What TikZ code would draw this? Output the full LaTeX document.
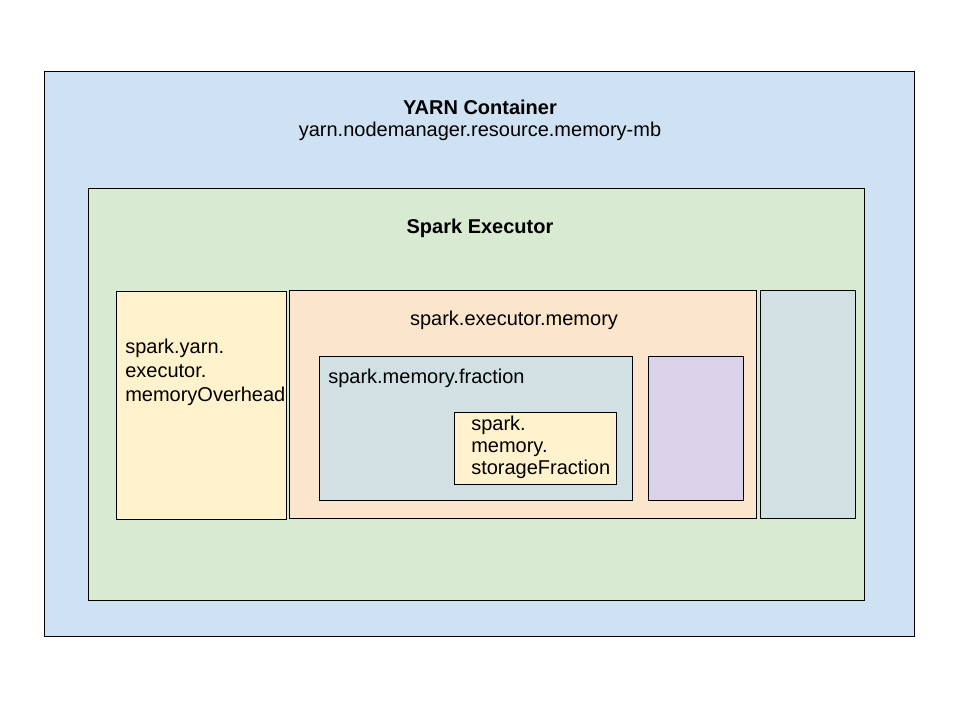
\documentclass[tikz,border=0pt]{standalone}
\usepackage{fontspec}
\setmainfont{Liberation Sans}
\usetikzlibrary{positioning}

\definecolor{yarnblue}{HTML}{CFE2F3}
\definecolor{execgreen}{HTML}{D9EAD3}
\definecolor{lightyellow}{HTML}{FFF2CC}
\definecolor{lightorange}{HTML}{FCE5CD}
\definecolor{greyblue}{HTML}{D0E0E3}
\definecolor{lightpurple}{HTML}{D9D2E9}

\tikzset{
    box/.style={draw=black, line width=0.6pt},
    label/.style={font=\fontsize{15}{18}\selectfont, inner sep=0pt}
}

\begin{document}
\begin{tikzpicture}[x=0.75pt, y=-0.75pt]

    \useasboundingbox (0,0) rectangle (960,720);

    % outer boxes
    \draw[box, fill=yarnblue] (44,71) rectangle (914,636);
    \draw[box, fill=execgreen] (88,188) rectangle (864,600);

    % inner boxes
    \draw[box, fill=lightyellow] (116,291) rectangle (286,519);
    \draw[box, fill=lightorange] (289,290) rectangle (756,518);
    \draw[box, fill=greyblue] (760,290) rectangle (855,518);
    \draw[box, fill=greyblue] (319,356) rectangle (632,500);
    \draw[box, fill=lightpurple] (648,356) rectangle (743,500);
    \draw[box, fill=lightyellow] (454,412) rectangle (616,484);

    % texts
    \node[label, font=\fontsize{15}{18}\bfseries] (yarn) at (480,107) {YARN Container};
    \node[label] (yarnmem) at (480,131) {yarn.nodemanager.resource.memory-mb};
    \node[label, font=\fontsize{15}{18}\bfseries] (exec) at (480,228) {Spark Executor};

    \node[label, anchor=west, align=left] (overhead) at (125,372)
        {spark.yarn.\\executor.\\memoryOverhead};
    \node[label] (execmem) at (514,320) {spark.executor.memory};
    \node[label, anchor=west] (fraction) at (328,378) {spark.memory.fraction};
    \node[label, anchor=west, align=left,
          font=\fontsize{15}{16.5}\selectfont] (storage) at (471,447)
        {spark.\\memory.\\storageFraction};

\end{tikzpicture}
\end{document}
